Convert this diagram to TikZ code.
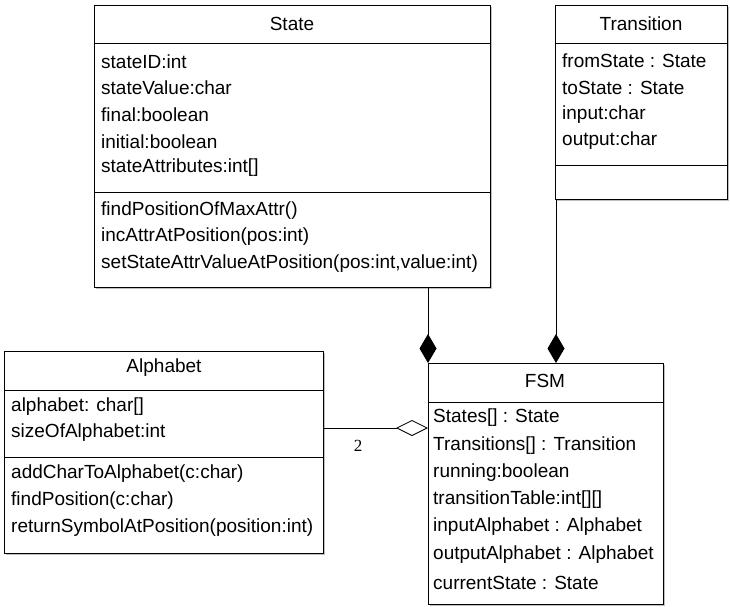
\documentclass[tikz,border=0pt]{standalone}
\usepackage{fontspec}
\setmainfont{Liberation Sans}
\newfontfamily\numfont{Liberation Serif}
\usetikzlibrary{arrows.meta}
\tikzset{
  umlbox/.style={draw=black, line width=1pt, fill=white, rectangle, anchor=north west, inner sep=0pt},
  shadowbox/.style={fill=black!25, draw=none},
  sepline/.style={line width=1pt},
  txt/.style={anchor=west, inner sep=0pt, font=\fontsize{19}{21}\selectfont},
  ttl/.style={anchor=center, inner sep=0pt, font=\fontsize{19}{21}\selectfont},
  conn/.style={line width=0.8pt},
  compo/.style={-{Diamond[fill=black,length=29pt,width=17pt]}},
  aggr/.style={-{Diamond[open,fill=white,length=32pt,width=16pt]}}
}
\begin{document}
\begin{tikzpicture}[x=1pt,y=-1pt]
\useasboundingbox (0,0) rectangle (730,606);
% shadows
\fill[shadowbox] (96,7) rectangle (492,289);
\fill[shadowbox] (557,7) rectangle (729,201);
\fill[shadowbox] (6,353) rectangle (325,555);
\fill[shadowbox] (430,365) rectangle (665,606);
% State
\node[umlbox, minimum width=396pt, minimum height=282pt] (state) at (94,5) {};
\draw[sepline] (94,43) -- (490,43) (94,192) -- (490,192);
\node[ttl] (stateT) at (292,24) {State};
\node[txt] (s1) at (101,62) {stateID:int};
\node[txt] (s2) at (101,88) {stateValue:char};
\node[txt] (s3) at (101,115) {final:boolean};
\node[txt] (s4) at (101,142) {initial:boolean};
\node[txt] (s5) at (101,168) {stateAttributes:int[]};
\node[txt] (s6) at (101,211) {findPositionOfMaxAttr()};
\node[txt] (s7) at (101,237) {incAttrAtPosition(pos:int)};
\node[txt] (s8) at (101,264) {setStateAttrValueAtPosition(pos:int,value:int)};
% Transition
\node[umlbox, minimum width=172pt, minimum height=194pt] (trans) at (555,5) {};
\draw[sepline] (555,43) -- (727,43) (555,165) -- (727,165);
\node[ttl] (transT) at (641,24) {Transition};
\node[txt] (t1) at (562,61) {fromState : State};
\node[txt] (t2) at (562,88) {toState : State};
\node[txt] (t3) at (562,115) {input:char};
\node[txt] (t4) at (562,141) {output:char};
% Alphabet
\node[umlbox, minimum width=319pt, minimum height=202pt] (alpha) at (4,351) {};
\draw[sepline] (4,390) -- (323,390) (4,457) -- (323,457);
\node[ttl] (alphaT) at (164,368) {Alphabet};
\node[txt] (a1) at (11,407) {alphabet: char[]};
\node[txt] (a2) at (11,433) {sizeOfAlphabet:int};
\node[txt] (a3) at (11,474) {addCharToAlphabet(c:char)};
\node[txt] (a4) at (11,501) {findPosition(c:char)};
\node[txt] (a5) at (11,528) {returnSymbolAtPosition(position:int)};
% FSM
\node[umlbox, minimum width=235pt, minimum height=241pt] (fsm) at (428,363) {};
\draw[sepline] (428,402) -- (663,402);
\node[ttl] (fsmT) at (545,381) {FSM};
\node[txt] (f1) at (433,418) {States[] : State};
\node[txt] (f2) at (433,446) {Transitions[] : Transition};
\node[txt] (f3) at (433,473) {running:boolean};
\node[txt] (f4) at (433,500) {transitionTable:int[][]};
\node[txt] (f5) at (433,527) {inputAlphabet : Alphabet};
\node[txt] (f6) at (433,555) {outputAlphabet : Alphabet};
\node[txt] (f7) at (433,583) {currentState : State};
% connectors
\coordinate (sBot) at (428,287);
\coordinate (fTopL) at (428,363);
\coordinate (tBot) at (556,199);
\coordinate (fTopT) at (556,363);
\coordinate (aR) at (323,428);
\coordinate (fL) at (428,428);
\draw[conn, compo] (sBot) -- (fTopL);
\draw[conn, compo] (tBot) -- (fTopT);
\draw[conn, aggr] (aR) -- (fL);
\node[inner sep=0pt, font=\numfont\fontsize{17}{19}\selectfont] (mult) at (358,446) {2};
\end{tikzpicture}
\end{document}
